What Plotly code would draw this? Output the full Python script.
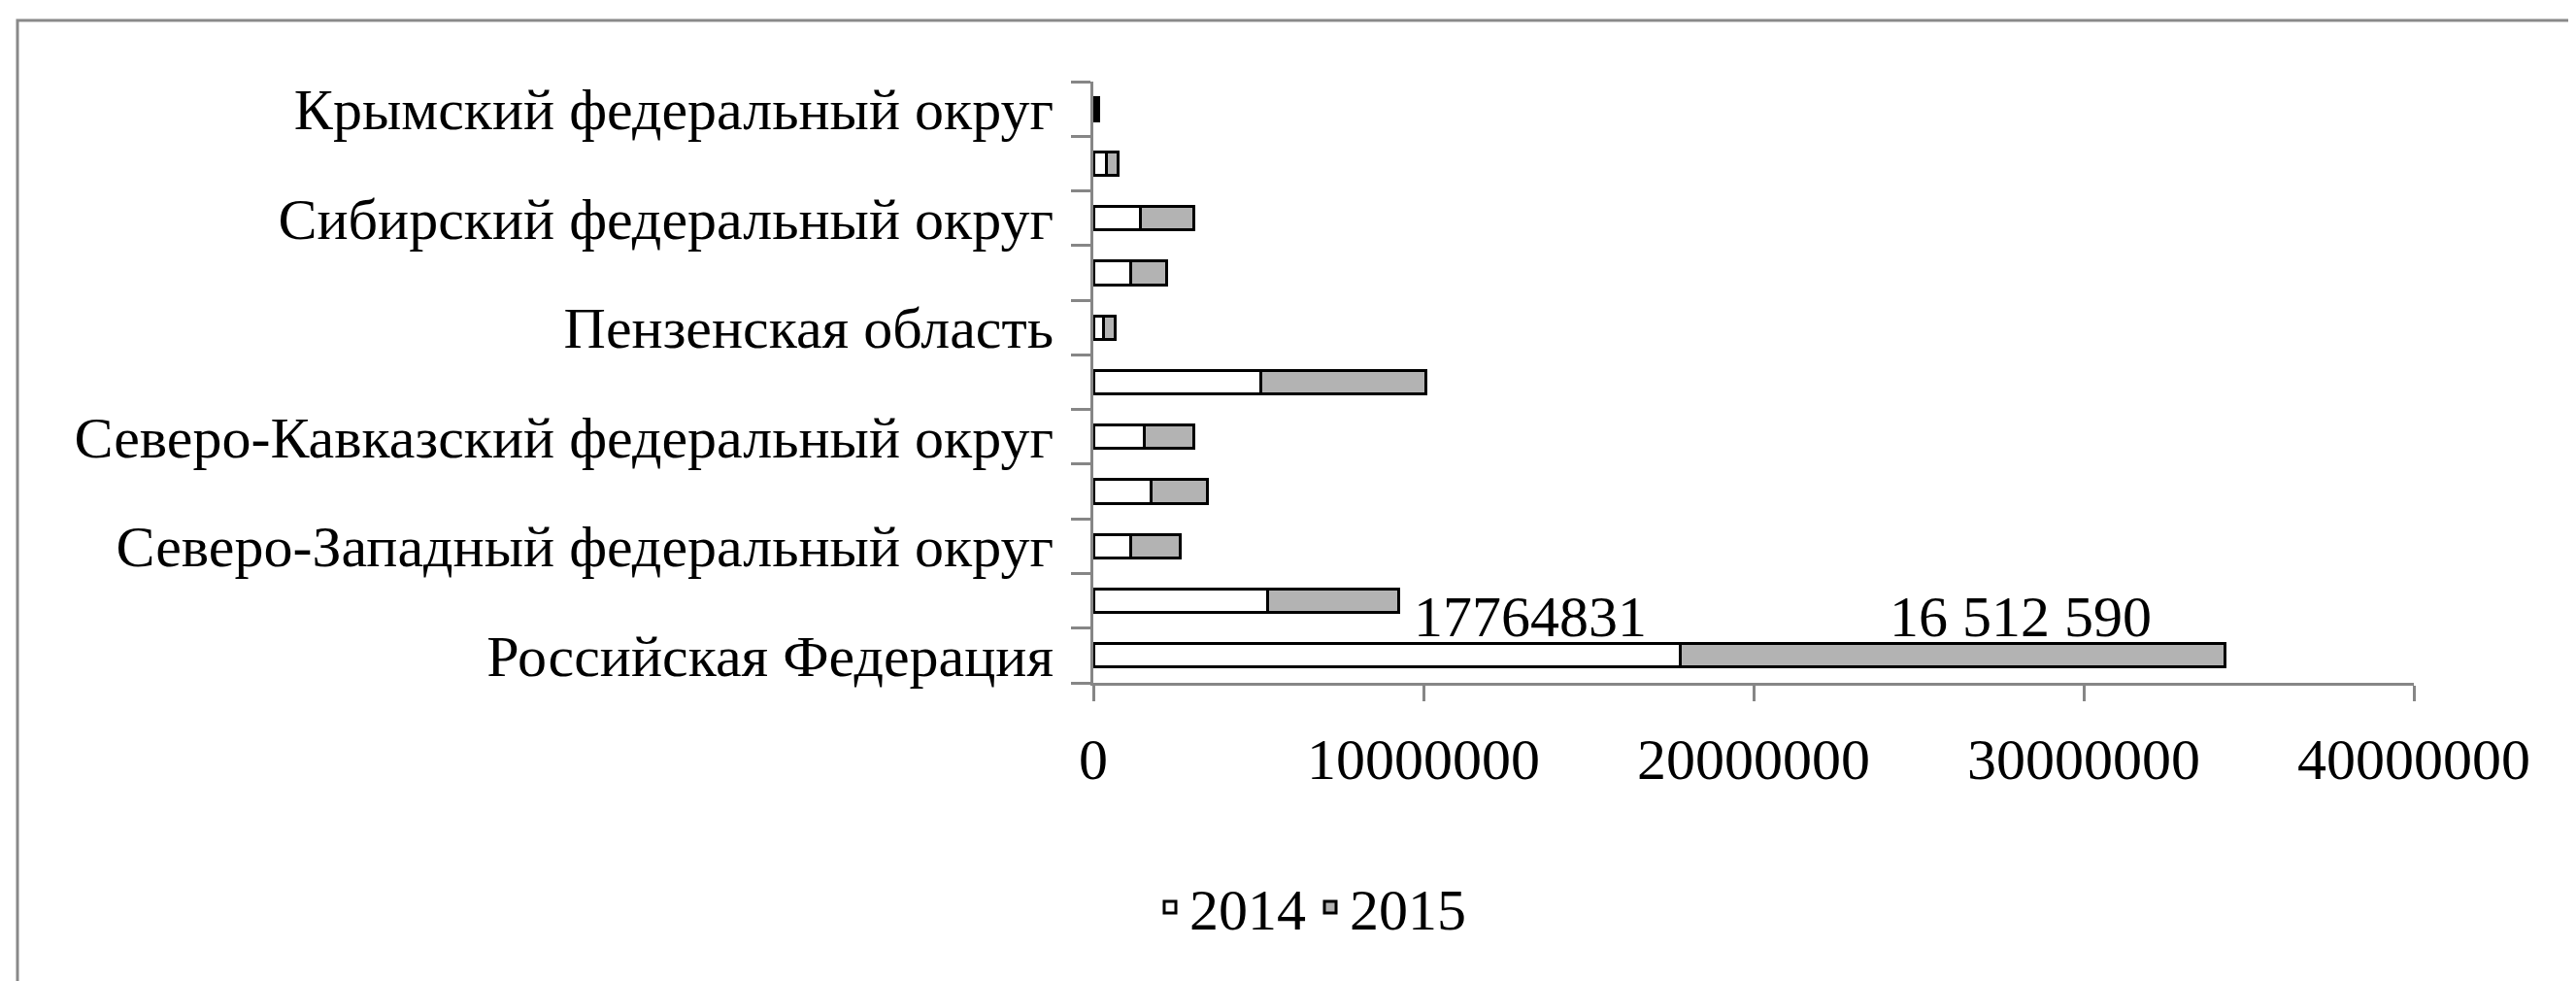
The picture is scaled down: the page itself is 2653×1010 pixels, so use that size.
import plotly.graph_objects as go

# ---- data (bottom to top) ----
categories = [
    "Российская Федерация",
    "Центральный федеральный округ",
    "Северо-Западный федеральный округ",
    "Южный федеральный округ",
    "Северо-Кавказский федеральный округ",
    "Приволжский федеральный округ",
    "Пензенская область",
    "Уральский федеральный округ",
    "Сибирский федеральный округ",
    "Дальневосточный федеральный округ",
    "Крымский федеральный округ",
]
tick_labels = [
    "Российская Федерация", "",
    "Северо-Западный федеральный округ", "",
    "Северо-Кавказский федеральный округ", "",
    "Пензенская область", "",
    "Сибирский федеральный округ", "",
    "Крымский федеральный округ",
]
values_2014 = [17764831, 5280000, 1130000, 1760000, 1540000, 5070000, 314000, 1130000, 1440000, 392000, 60000]
values_2015 = [16512590, 3960000, 1490000, 1690000, 1490000, 5000000, 343000, 1080000, 1600000, 345000, 110000]
series_names = ["2014", "2015"]
x_ticks = [0, 10000000, 20000000, 30000000, 40000000]

# ---- layout constants (pixels, page has an 8px body margin) ----
OFF = 8
W, H = 2653, 1010
L = 1126 - OFF
R = W - (2486 - OFF)
T = 84 - OFF
B = H - (703 - OFF)
pw, ph = W - L - R, H - T - B

def px_x(p):
    return (p - OFF - L) / pw

def px_y(p):
    return (H - B - (p - OFF)) / ph

FONT = "Liberation Serif, Times New Roman, serif"
FS = 60

fig = go.Figure()
fig.add_trace(go.Bar(
    y=categories, x=values_2014, orientation="h", name=series_names[0],
    marker=dict(color="white", line=dict(color="black", width=3)),
))
fig.add_trace(go.Bar(
    y=categories, x=values_2015, orientation="h", name=series_names[1],
    marker=dict(color="#b3b3b3", line=dict(color="black", width=3)),
))

def spaced(v):
    return f"{v:,}".replace(",", " ")

fig.add_annotation(x=values_2014[0] * 0.745, y=0.7, xref="x", yref="y",
                   text=str(values_2014[0]), showarrow=False,
                   font=dict(family=FONT, size=FS, color="black"))
fig.add_annotation(x=values_2014[0] + values_2015[0] * 0.625, y=0.7, xref="x", yref="y",
                   text=spaced(values_2015[0]), showarrow=False,
                   font=dict(family=FONT, size=FS, color="black"))

# outer chart frame
fig.add_shape(type="rect", xref="paper", yref="paper",
              x0=px_x(18), x1=px_x(2740), y0=px_y(1100), y1=px_y(21),
              line=dict(color="#898989", width=3), fillcolor="rgba(0,0,0,0)", layer="below")

fig.update_layout(
    width=W, height=H,
    margin=dict(l=L, r=R, t=T, b=B, autoexpand=False),
    paper_bgcolor="white", plot_bgcolor="white",
    barmode="stack", bargap=0.57,
    font=dict(family=FONT, size=FS, color="black"),
    showlegend=True,
    legend=dict(orientation="h", x=px_x(1350), y=px_y(934), xanchor="center", yanchor="middle",
                font=dict(family=FONT, size=FS), traceorder="normal",
                itemwidth=30, tracegroupgap=0, bgcolor="rgba(0,0,0,0)"),
    xaxis=dict(range=[0, 40000000], tickvals=x_ticks, tickformat="d",
               showgrid=False, zeroline=False, showline=True, linecolor="#868686", linewidth=3,
               ticks="outside", ticklen=16, tickwidth=3, tickcolor="#868686",
               ticklabelstandoff=8, tickfont=dict(family=FONT, size=FS)),
    yaxis=dict(type="category", categoryorder="array", categoryarray=categories,
               tickvals=categories, ticktext=tick_labels, tickson="boundaries",
               range=[-0.5, len(categories) - 0.5],
               showgrid=False, zeroline=False, showline=True, linecolor="#868686", linewidth=3,
               ticks="outside", ticklen=20, tickwidth=3, tickcolor="#868686",
               ticklabelstandoff=26, tickfont=dict(family=FONT, size=FS)),
)

fig.write_html("out.html")
